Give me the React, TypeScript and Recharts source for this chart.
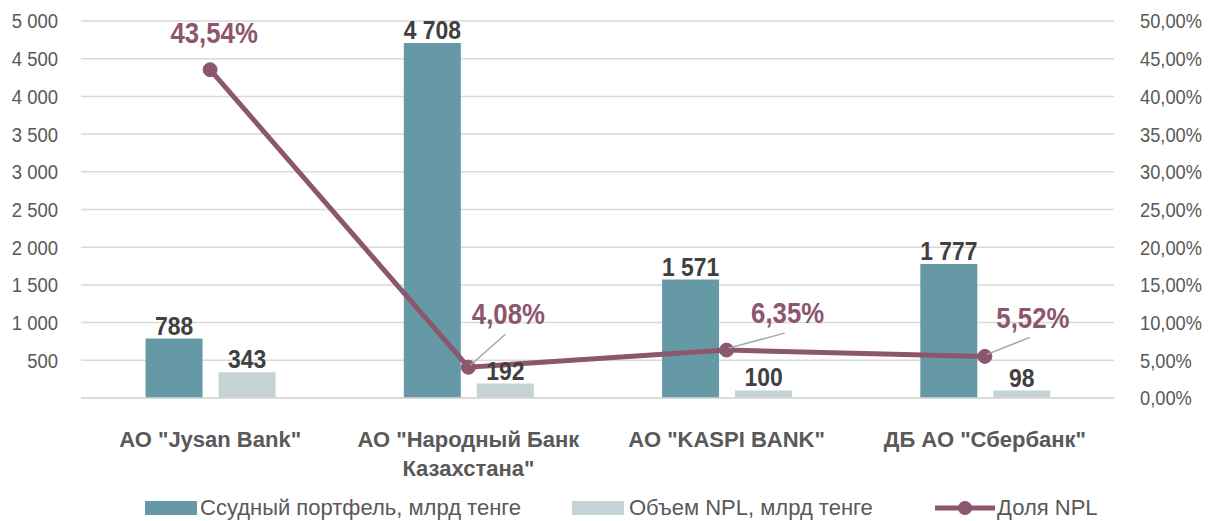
import React from "react";
import {
  ComposedChart,
  Bar,
  Line,
  XAxis,
  YAxis,
  CartesianGrid,
  LabelList,
} from "recharts";

const categories = [
  'АО "Jysan Bank"',
  'АО "Народный Банк\nКазахстана"',
  'АО "KASPI BANK"',
  'ДБ АО "Сбербанк"',
];
const loanPortfolio = [788, 4708, 1571, 1777];
const nplVolume = [343, 192, 100, 98];
const nplShare = [0.4354, 0.0408, 0.0635, 0.0552];
const leftTicks = [0, 500, 1000, 1500, 2000, 2500, 3000, 3500, 4000, 4500, 5000];
const rightTicks = [0, 0.05, 0.1, 0.15, 0.2, 0.25, 0.3, 0.35, 0.4, 0.45, 0.5];
const seriesNames = ["Ссудный портфель, млрд тенге", "Объем NPL, млрд тенге", "Доля NPL"];

const data = categories.map((c, i) => ({
  name: c,
  loan: loanPortfolio[i],
  npl: nplVolume[i],
  share: nplShare[i],
}));

const FONT = "'Liberation Sans', Arial, sans-serif";
const DARK = "#6699A6";
const LIGHT = "#C5D3D7";
const LINE = "#8C566E";
const AXIS_TEXT = "#595959";
const LABEL_TEXT = "#404040";
const GRID = "#D9D9D9";

const fmtThousands = (v: number) =>
  String(Math.round(v)).replace(/\B(?=(\d{3})+(?!\d))/g, " ");
const fmtPct = (v: number, d: number) => (v * 100).toFixed(d).replace(".", ",") + "%";

// Condensed text: Liberation Sans squeezed horizontally to mimic Arial Narrow
const NarrowText = (p: {
  x: number;
  y: number;
  text: string;
  anchor: string;
  size: number;
  fill: string;
  bold?: boolean;
  sx?: number;
}) => (
  <g transform={`translate(${p.x},${p.y})`}>
    <text
      transform={`scale(${p.sx ?? 0.87},1)`}
      x={0}
      y={0}
      textAnchor={p.anchor as any}
      dominantBaseline="central"
      fill={p.fill}
      fontFamily={FONT}
      fontWeight={p.bold ? "bold" : "normal"}
      fontSize={p.size}
    >
      {p.text}
    </text>
  </g>
);

const labelOffsets = [
  { dx: 4, dy: -37, leader: false },
  { dx: 40, dy: -53, leader: true },
  { dx: 61, dy: -37, leader: true },
  { dx: 48, dy: -39, leader: true },
];

const LineLabel = (props: any) => {
  const { x, y, value, index } = props;
  const o = labelOffsets[index] || { dx: 0, dy: -30, leader: false };
  const cx = x + o.dx;
  const cy = y + o.dy;
  return (
    <g>
      {o.leader && (
        <line x1={x + 2} y1={y - 2} x2={cx - 3} y2={cy + 20} stroke="#A6A6A6" strokeWidth={1.5} />
      )}
      <NarrowText x={cx} y={cy} text={fmtPct(value, 2)} anchor="middle" size={30} fill={LINE} bold sx={0.86} />
    </g>
  );
};

const BarLabel = (props: any) => {
  const { x, y, width, value } = props;
  return (
    <NarrowText
      x={x + width / 2}
      y={y - 13}
      text={fmtThousands(value)}
      anchor="middle"
      size={26}
      fill={LABEL_TEXT}
      bold
      sx={0.88}
    />
  );
};

const XTick = (props: any) => {
  const { x, y, payload } = props;
  const lines = String(payload.value).split("\n");
  return (
    <text
      x={x}
      y={y + 41}
      textAnchor="middle"
      fill={AXIS_TEXT}
      fontFamily={FONT}
      fontWeight="bold"
      fontSize={22}
    >
      {lines.map((l, i) => (
        <tspan key={i} x={x} dy={i === 0 ? 0 : 29}>
          {l}
        </tspan>
      ))}
    </text>
  );
};

const LeftTick = (props: any) => {
  const { x, y, payload } = props;
  const v = payload.value;
  if (v === 0) return null;
  return <NarrowText x={x} y={y} text={fmtThousands(v)} anchor="end" size={21} fill={AXIS_TEXT} sx={0.88} />;
};

const RightTick = (props: any) => {
  const { x, y, payload } = props;
  return <NarrowText x={x} y={y} text={fmtPct(payload.value, 2)} anchor="start" size={21} fill={AXIS_TEXT} sx={0.87} />;
};

export default function App() {
  return (
    <div style={{ position: "relative", width: 1195, height: 513 }}>
      <ComposedChart
        width={1195}
        height={490}
        data={data}
        margin={{ top: 13, right: 0, bottom: 0, left: 0 }}
        barCategoryGap="25%"
        barGap={16}
      >
        <CartesianGrid vertical={false} stroke={GRID} strokeWidth={1.5} yAxisId="left" />
        <XAxis
          dataKey="name"
          height={100}
          axisLine={{ stroke: GRID, strokeWidth: 1.5 }}
          tickLine={false}
          tick={<XTick />}
          interval={0}
        />
        <YAxis
          yAxisId="left"
          width={73}
          domain={[0, 5000]}
          ticks={leftTicks}
          axisLine={false}
          tickLine={false}
          tickSize={0}
          tickMargin={23}
          tick={<LeftTick />}
          interval={0}
        />
        <YAxis
          yAxisId="right"
          orientation="right"
          width={89}
          domain={[0, 0.5]}
          ticks={rightTicks}
          axisLine={false}
          tickLine={false}
          tickSize={0}
          tickMargin={26}
          tick={<RightTick />}
          interval={0}
        />
        <Bar yAxisId="left" dataKey="loan" name={seriesNames[0]} fill={DARK} isAnimationActive={false}>
          <LabelList dataKey="loan" content={<BarLabel />} />
        </Bar>
        <Bar yAxisId="left" dataKey="npl" name={seriesNames[1]} fill={LIGHT} isAnimationActive={false}>
          <LabelList dataKey="npl" content={<BarLabel />} />
        </Bar>
        <Line
          yAxisId="right"
          dataKey="share"
          name={seriesNames[2]}
          stroke={LINE}
          strokeWidth={5}
          dot={{ r: 7, fill: LINE, stroke: LINE, strokeWidth: 1 }}
          activeDot={false}
          isAnimationActive={false}
        >
          <LabelList dataKey="share" content={<LineLabel />} />
        </Line>
      </ComposedChart>
      <div
        style={{
          position: "absolute",
          top: 488,
          left: 0,
          width: 1195,
          height: 24,
          fontFamily: FONT,
          fontSize: 22,
          color: AXIS_TEXT,
        }}
      >
        <div style={{ position: "absolute", left: 137, top: 0, display: "flex", alignItems: "center", height: 24, whiteSpace: "nowrap" }}>
          <span style={{ display: "inline-block", width: 52, height: 14, background: DARK, marginRight: 3 }} />
          <span>{seriesNames[0]}</span>
        </div>
        <div style={{ position: "absolute", left: 564, top: 0, display: "flex", alignItems: "center", height: 24, whiteSpace: "nowrap" }}>
          <span style={{ display: "inline-block", width: 52, height: 14, background: LIGHT, marginRight: 5 }} />
          <span>{seriesNames[1]}</span>
        </div>
        <div style={{ position: "absolute", left: 927, top: 0, display: "flex", alignItems: "center", height: 24, whiteSpace: "nowrap" }}>
          <svg width={60} height={24} style={{ marginRight: 2 }}>
            <line x1={0} y1={12} x2={60} y2={12} stroke={LINE} strokeWidth={5} />
            <circle cx={30} cy={12} r={7} fill={LINE} />
          </svg>
          <span>{seriesNames[2]}</span>
        </div>
      </div>
    </div>
  );
}
